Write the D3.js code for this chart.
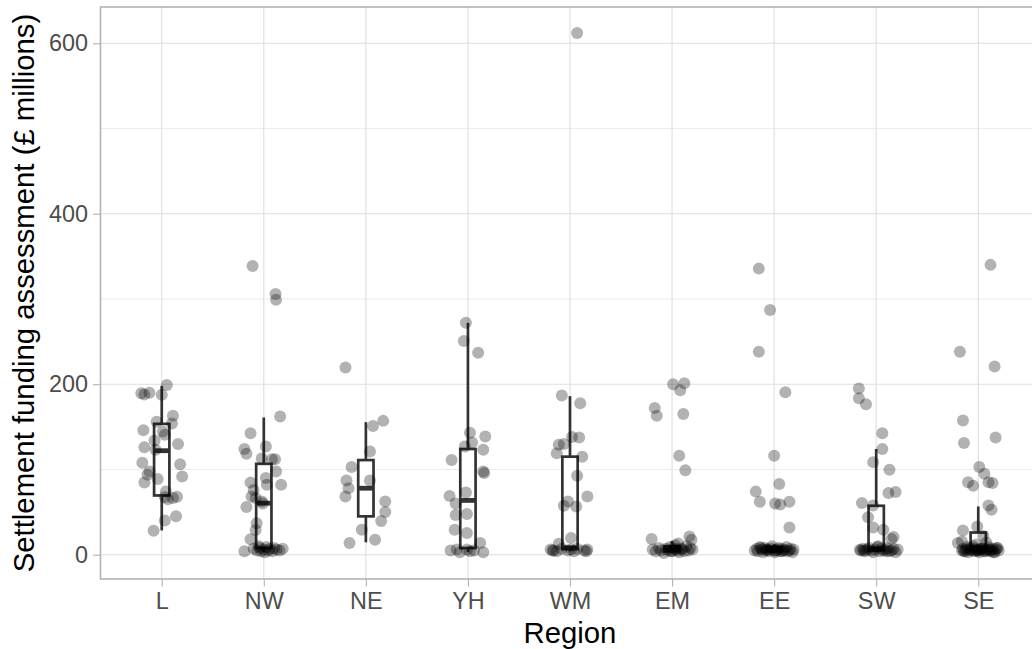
<!DOCTYPE html>
<html>
<head>
<meta charset="utf-8">
<script src="https://cdn.jsdelivr.net/npm/d3@7"></script>
<style>
  body { margin: 0; background: #ffffff; }
  svg { display: block; }
  text { font-family: "Liberation Sans", Arial, Helvetica, sans-serif; }
</style>
</head>
<body>
<svg id="chart" width="1032" height="649"></svg>
<script>
// Regions on the x axis
const regions = ["L", "NW", "NE", "YH", "WM", "EM", "EE", "SW", "SE"];

// Settlement funding assessment (£ millions) per authority, with horizontal jitter (in category units)
const valuesL = [189.5, 188, 190, 199, 187.5, 163, 154, 156, 146, 144.5, 140.6, 130, 134, 126, 108, 106, 97.6, 93.8, 84.7, 88.7, 91.8, 68, 66.4, 65, 67.6, 45, 40, 28, 123, 74];
const jitterL = [-0.20, -0.17, -0.12, 0.05, 0.00, 0.11, 0.10, -0.05, -0.18, 0.01, 0.03, 0.16, -0.07, -0.17, -0.19, 0.18, -0.12, -0.14, -0.17, -0.04, 0.20, 0.15, 0.11, 0.06, 0.03, 0.14, 0.03, -0.08, -0.06, 0.04];

const valuesNW = [338.7, 305.9, 299, 162, 142.6, 124, 118.4, 127, 112, 112, 113, 97.6, 82, 90, 82, 84.7, 76, 66.4, 68.3, 62.5, 60, 56, 37, 29, 18, 4, 7, 5, 8, 4, 6, 9, 5, 7, 4, 8, 6, 5, 7, 10, 3];
const jitterNW = [-0.11, 0.115, 0.12, 0.16, -0.13, -0.19, -0.17, 0.02, 0.08, 0.11, -0.02, 0.12, 0.17, 0.02, 0.03, -0.13, -0.10, -0.08, -0.12, -0.02, -0.01, -0.17, -0.07, -0.08, -0.13, -0.19, -0.10, -0.065, -0.04, -0.025, 0.00, 0.025, 0.045, 0.06, 0.085, 0.10, 0.125, 0.155, 0.185, -0.05, 0.01];

const valuesNE = [219.5, 151, 157, 121, 103, 87, 78, 87, 68.3, 62.5, 50, 39.4, 29.3, 13.7, 17.6];
const jitterNE = [-0.20, 0.07, 0.17, 0.04, -0.14, -0.19, -0.17, 0.04, -0.20, 0.19, 0.19, 0.15, -0.04, -0.16, 0.09];

const valuesYH = [272, 250.8, 237, 143, 138.6, 131.6, 123, 127, 111, 97.6, 95.7, 69, 73, 60, 47.7, 46.5, 29.3, 25.4, 13.7, 5, 6, 4, 3, 3, 6, 5];
const jitterYH = [-0.02, -0.04, 0.10, 0.02, 0.17, 0.04, 0.15, -0.03, -0.16, 0.15, 0.16, -0.18, -0.02, -0.12, -0.01, -0.12, -0.13, -0.01, 0.12, -0.17, -0.11, 0.02, 0.15, -0.08, -0.01, 0.06];

const valuesWM = [612, 186.7, 177.7, 138, 137.5, 129, 119, 130, 115, 92.6, 68.3, 62.5, 57.4, 56.6, 19.5, 12.9, 6, 5, 4, 7, 5, 6, 4, 7, 5, 6, 4, 5];
const jitterWM = [0.07, -0.08, 0.10, 0.02, 0.09, -0.11, -0.13, -0.06, 0.12, 0.07, 0.17, -0.02, -0.06, 0.06, 0.01, -0.11, -0.19, -0.16, -0.13, -0.08, -0.02, 0.01, 0.04, 0.07, 0.14, 0.17, 0.16, -0.17];

const valuesEM = [200, 201, 193, 172, 163, 165, 116, 99, 18.4, 21.5, 17.6, 13, 6, 4, 8, 5, 2, 7, 5, 9, 4, 6, 11, 5, 3, 7, 6, 4, 10, 5, 8, 6, 4, 7];
const jitterEM = [0.01, 0.12, 0.08, -0.17, -0.15, 0.11, 0.07, 0.13, -0.20, 0.17, 0.19, 0.06, -0.19, -0.16, -0.13, -0.11, -0.08, -0.06, -0.04, -0.02, 0.00, 0.02, 0.03, 0.05, 0.07, 0.09, 0.10, 0.12, 0.14, 0.16, 0.18, 0.20, -0.01, 0.04];

const valuesEE = [335.6, 287, 238, 190.6, 116, 83, 74, 62, 60, 59, 62, 32, 5, 7, 4, 9, 6, 3, 8, 5, 6, 4, 7, 10, 5, 3, 6, 8, 4, 7, 5, 6, 9, 4, 5, 7, 3, 6, 8, 5, 4, 6];
const jitterEE = [-0.15, -0.04, -0.15, 0.11, 0.00, 0.05, -0.18, -0.14, 0.01, 0.06, 0.15, 0.15, -0.19, -0.17, -0.16, -0.14, -0.12, -0.11, -0.09, -0.08, -0.06, -0.05, -0.03, -0.02, 0.00, 0.01, 0.03, 0.04, 0.06, 0.07, 0.09, 0.10, 0.12, 0.13, 0.15, 0.16, 0.18, 0.19, -0.13, 0.02, 0.08, -0.07];

const valuesSW = [195, 183.6, 176.6, 142.6, 124, 108.6, 99.6, 72.3, 73.5, 60.6, 57.8, 44, 32, 29.3, 20.7, 18.4, 5.9, 5, 7, 4, 6, 8, 5, 3, 6, 9, 4, 7, 5, 6, 8, 4, 5, 7, 3, 6, 5, 10, 4];
const jitterSW = [-0.17, -0.17, -0.10, 0.06, 0.06, -0.03, 0.13, 0.12, 0.19, -0.14, -0.03, -0.08, -0.03, 0.07, 0.17, 0.15, -0.16, -0.15, -0.13, -0.11, -0.09, -0.07, -0.05, -0.03, -0.01, 0.01, 0.03, 0.05, 0.07, 0.09, 0.11, 0.13, 0.15, 0.17, 0.19, 0.21, -0.12, 0.02, 0.10];

const valuesSE = [340, 238, 220.7, 157.4, 131, 137.5, 102.8, 95, 85, 84, 85, 81, 57.8, 52.7, 28.5, 33, 13.7, 15.6, 22, 5, 7, 4, 6, 9, 3, 8, 5, 6, 4, 7, 12, 5, 3, 6, 8, 4, 7, 5, 6, 9, 4, 5, 7, 3, 6, 8, 5, 4, 6, 10, 5, 7, 4, 6, 3, 8, 5, 14, 6];
const jitterSE = [0.12, -0.18, 0.16, -0.15, -0.14, 0.17, 0.01, 0.06, 0.10, 0.14, -0.10, -0.05, 0.10, 0.13, -0.15, -0.01, -0.20, -0.16, 0.05, -0.16, -0.15, -0.14, -0.12, -0.11, -0.10, -0.08, -0.07, -0.06, -0.04, -0.03, -0.02, 0.00, 0.01, 0.02, 0.04, 0.05, 0.06, 0.08, 0.09, 0.10, 0.12, 0.13, 0.14, 0.16, 0.17, 0.18, 0.20, -0.13, -0.09, -0.05, -0.01, 0.03, 0.07, 0.11, 0.15, 0.19, -0.02, 0.08, 0.00];

// Box-plot summaries per region (whisker ends, quartiles, median)
const boxLow    = [28.5, 3,     14.5, 3,   4,   2,  2,  3,    2];
const boxQ1     = [69.5, 7.8,   45,   7.8, 6.6, 4,  4,  5,    5];
const boxMedian = [122,  60.5,  78,   63.7, 8,  6,  6,  7,    7];
const boxQ3     = [153.5, 106.6, 111, 124, 115, 10, 9,  57.4, 26];
const boxHigh   = [198,  161,   155.5, 272, 186, 16, 12, 124, 56.6];

// Axis ticks
const yMajorTicks = [0, 200, 400, 600];
const yMinorTicks = [100, 300, 500];

// ---- build tables ----
const valueSets = [valuesL, valuesNW, valuesNE, valuesYH, valuesWM, valuesEM, valuesEE, valuesSW, valuesSE];
const jitterSets = [jitterL, jitterNW, jitterNE, jitterYH, jitterWM, jitterEM, jitterEE, jitterSW, jitterSE];
const points = [];
regions.forEach((r, i) => {
  valueSets[i].forEach((v, j) => points.push({ region: r, value: v, jitter: jitterSets[i][j] }));
});
const boxes = regions.map((r, i) => ({
  region: r, low: boxLow[i], q1: boxQ1[i], median: boxMedian[i], q3: boxQ3[i], high: boxHigh[i]
}));

// ---- layout ----
const panel = { left: 100.5, right: 1039.5, top: 7, bottom: 579 };
const svg = d3.select("#chart");

const x = d3.scalePoint().domain(regions).range([panel.left, panel.right]).padding(0.6);
const step = x.step();

const [vmin, vmax] = d3.extent(points, d => d.value);
const pad = (vmax - vmin) * 0.05;
const y = d3.scaleLinear().domain([vmin - pad, vmax + pad]).range([panel.bottom, panel.top]);

const gridColor = "#dedede";
const axisColor = "#b3b3b3";
const textColor = "#4d4d4d";

// gridlines
const grid = svg.append("g");
grid.selectAll("line.minor").data(yMinorTicks).join("line")
  .attr("x1", panel.left).attr("x2", panel.right)
  .attr("y1", d => y(d)).attr("y2", d => y(d))
  .attr("stroke", gridColor).attr("stroke-width", 0.6);
grid.selectAll("line.majorY").data(yMajorTicks).join("line")
  .attr("x1", panel.left).attr("x2", panel.right)
  .attr("y1", d => y(d)).attr("y2", d => y(d))
  .attr("stroke", gridColor).attr("stroke-width", 1.1);
grid.selectAll("line.majorX").data(regions).join("line")
  .attr("x1", d => x(d)).attr("x2", d => x(d))
  .attr("y1", panel.top).attr("y2", panel.bottom)
  .attr("stroke", gridColor).attr("stroke-width", 1.1);

// box plots
const boxW = step * 0.15;
const boxColor = "#333333";
const bg = svg.append("g");
bg.selectAll("line.whiskerUp").data(boxes).join("line")
  .attr("x1", d => x(d.region)).attr("x2", d => x(d.region))
  .attr("y1", d => y(d.q3)).attr("y2", d => y(d.high))
  .attr("stroke", boxColor).attr("stroke-width", 2.7);
bg.selectAll("line.whiskerDown").data(boxes).join("line")
  .attr("x1", d => x(d.region)).attr("x2", d => x(d.region))
  .attr("y1", d => y(d.q1)).attr("y2", d => y(d.low))
  .attr("stroke", boxColor).attr("stroke-width", 2.7);
bg.selectAll("rect.box").data(boxes).join("rect")
  .attr("x", d => x(d.region) - boxW / 2).attr("width", boxW)
  .attr("y", d => y(d.q3)).attr("height", d => y(d.q1) - y(d.q3))
  .attr("fill", "#ffffff").attr("stroke", boxColor).attr("stroke-width", 2.7);
bg.selectAll("line.median").data(boxes).join("line")
  .attr("x1", d => x(d.region) - boxW / 2).attr("x2", d => x(d.region) + boxW / 2)
  .attr("y1", d => y(d.median)).attr("y2", d => y(d.median))
  .attr("stroke", boxColor).attr("stroke-width", 4.8);

// jittered points
svg.append("g").selectAll("circle").data(points).join("circle")
  .attr("cx", d => x(d.region) + d.jitter * step)
  .attr("cy", d => y(d.value))
  .attr("r", 6)
  .attr("fill", "#000000").attr("fill-opacity", 0.3);

// panel border
svg.append("rect")
  .attr("x", panel.left).attr("y", panel.top)
  .attr("width", panel.right - panel.left).attr("height", panel.bottom - panel.top)
  .attr("fill", "none").attr("stroke", axisColor).attr("stroke-width", 1.6);

// x axis
const xAxis = svg.append("g").attr("transform", `translate(0,${panel.bottom})`)
  .call(d3.axisBottom(x).tickSize(7.5).tickPadding(6));
xAxis.select(".domain").remove();
xAxis.selectAll(".tick line").attr("stroke", axisColor).attr("stroke-width", 1.1);
xAxis.selectAll(".tick text").attr("fill", textColor).attr("font-size", "23.4px")
  .attr("font-family", '"Liberation Sans", Arial, sans-serif');

// y axis
const yAxis = svg.append("g").attr("transform", `translate(${panel.left},0)`)
  .call(d3.axisLeft(y).tickValues(yMajorTicks).tickSize(7.5).tickPadding(5));
yAxis.select(".domain").remove();
yAxis.selectAll(".tick line").attr("stroke", axisColor).attr("stroke-width", 1.1);
yAxis.selectAll(".tick text").attr("fill", textColor).attr("font-size", "23.4px")
  .attr("font-family", '"Liberation Sans", Arial, sans-serif');

// axis titles
svg.append("text")
  .attr("x", (panel.left + panel.right) / 2).attr("y", 643)
  .attr("text-anchor", "middle").attr("font-size", "29.3px").attr("fill", "#000000")
  .text("Region");
svg.append("text")
  .attr("transform", `translate(33.5,${(panel.top + panel.bottom) / 2}) rotate(-90)`)
  .attr("text-anchor", "middle").attr("font-size", "29.3px").attr("fill", "#000000")
  .text("Settlement funding assessment (£ millions)");
</script>
</body>
</html>
